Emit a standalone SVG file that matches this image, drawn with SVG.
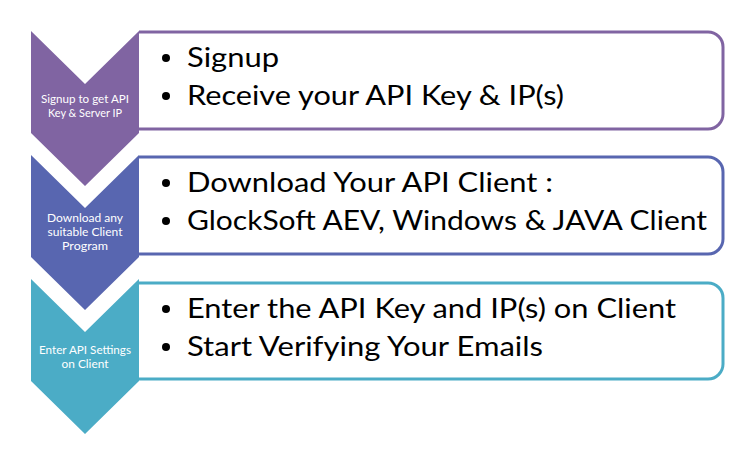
<svg xmlns="http://www.w3.org/2000/svg" width="756" height="452" viewBox="0 0 756 452">
<style>
.box{fill:#fff;stroke-width:3}
.main{font-family:Lato,"Open Sans","Liberation Sans",sans-serif;font-size:27px;fill:#000}
.lab{font-family:Lato,"Open Sans","Liberation Sans",sans-serif;font-size:12px;fill:#fff;text-anchor:middle}
.dot{fill:#000}
</style>
<defs>
<path id="chev" d="M0,0 L54,53 L108,0 L108,102 L54,155 L0,102 Z"/>
</defs>
<rect width="756" height="452" fill="#fff"/>
<g id="step1">
<path class="box" d="M139,32 H708 A15,15 0 0 1 723,47 V114 A15,15 0 0 1 708,129 H139" stroke="#8064A2"/>
<use href="#chev" x="31" y="31" fill="#8064A2"/>
<text class="lab" x="85" y="103" textLength="88" lengthAdjust="spacingAndGlyphs">Signup to get API</text>
<text class="lab" x="85" y="117" textLength="74" lengthAdjust="spacingAndGlyphs">Key &amp; Server IP</text>
<circle class="dot" cx="166" cy="58" r="4"/>
<circle class="dot" cx="166" cy="96" r="4"/>
<text class="main" x="187" y="67" textLength="92" lengthAdjust="spacingAndGlyphs">Signup</text>
<text class="main" x="187" y="105" textLength="377" lengthAdjust="spacingAndGlyphs">Receive your API Key &amp; IP(s)</text>
</g>
<g id="step2">
<path class="box" d="M139,157 H708 A15,15 0 0 1 723,172 V239 A15,15 0 0 1 708,254 H139" stroke="#5866B0"/>
<use href="#chev" x="31" y="155" fill="#5866B0"/>
<text class="lab" x="85" y="222" textLength="76" lengthAdjust="spacingAndGlyphs">Download any</text>
<text class="lab" x="85" y="236" textLength="75" lengthAdjust="spacingAndGlyphs">suitable Client</text>
<text class="lab" x="85" y="250" textLength="46" lengthAdjust="spacingAndGlyphs">Program</text>
<circle class="dot" cx="166" cy="183" r="4"/>
<circle class="dot" cx="166" cy="221" r="4"/>
<text class="main" x="187" y="192" textLength="366" lengthAdjust="spacingAndGlyphs">Download Your API Client :</text>
<text class="main" x="187" y="230" textLength="520" lengthAdjust="spacingAndGlyphs">GlockSoft AEV, Windows &amp; JAVA Client</text>
</g>
<g id="step3">
<path class="box" d="M139,283 H708 A15,15 0 0 1 723,298 V364 A15,15 0 0 1 708,379 H139" stroke="#4BACC6"/>
<use href="#chev" x="31" y="279" fill="#4BACC6"/>
<text class="lab" x="85" y="354" textLength="92" lengthAdjust="spacingAndGlyphs">Enter API Settings</text>
<text class="lab" x="85" y="368" textLength="47" lengthAdjust="spacingAndGlyphs">on Client</text>
<circle class="dot" cx="166" cy="309" r="4"/>
<circle class="dot" cx="166" cy="347" r="4"/>
<text class="main" x="187" y="318" textLength="489" lengthAdjust="spacingAndGlyphs">Enter the API Key and IP(s) on Client</text>
<text class="main" x="187" y="356" textLength="356" lengthAdjust="spacingAndGlyphs">Start Verifying Your Emails</text>
</g>
<g id="connectors"/>
</svg>
